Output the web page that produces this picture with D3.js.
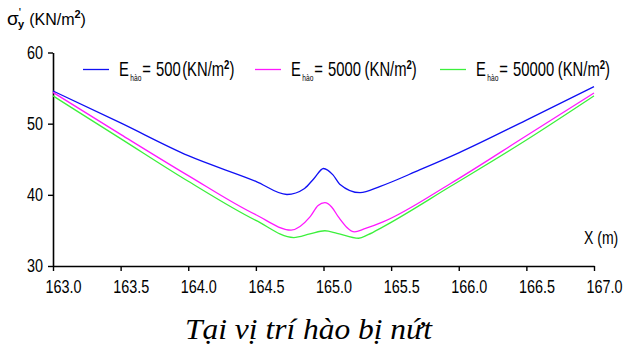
<!DOCTYPE html>
<html>
<head>
<meta charset="utf-8">
<script src="https://cdn.jsdelivr.net/npm/d3@7"></script>
<style>
  body { margin: 0; background: #fff; }
  text { font-family: "Liberation Sans", Arial, sans-serif; }
</style>
</head>
<body>
<svg id="chart" width="626" height="349"></svg>
<script>
// x positions (m) and stress values (KN/m2) for each trench stiffness
var xBlue = [163.0, 163.5, 164.0, 164.5, 164.73, 164.86, 164.93, 165.0, 165.07, 165.12, 165.27, 165.42, 165.71, 166.0, 166.5, 167.0];
var yBlue = [54.6, 50.1, 45.5, 41.9, 40.05, 40.9, 42.3, 43.7, 42.8, 41.5, 40.3, 41.2, 43.5, 45.9, 50.5, 55.2];

var xPink = [163.0, 163.5, 164.0, 164.5, 164.76, 164.9, 164.96, 165.01, 165.06, 165.11, 165.23, 165.3, 165.44, 165.94, 166.5, 167.0];
var yPink = [54.4, 48.5, 42.7, 37.2, 35.05, 36.9, 38.5, 38.9, 38.3, 36.9, 34.8, 35.2, 36.2, 41.6, 48.3, 54.3];

var xGreen = [163.0, 163.5, 164.0, 164.5, 164.78, 164.9, 165.01, 165.1, 165.26, 165.33, 165.44, 165.94, 166.5, 167.0];
var yGreen = [53.9, 47.9, 41.9, 36.4, 34.0, 34.5, 34.95, 34.6, 33.9, 34.4, 35.5, 41.2, 47.7, 53.9];

var seriesLabels = ["500", "5000", "50000"];
var xTicks = [163.0, 163.5, 164.0, 164.5, 165.0, 165.5, 166.0, 166.5, 167.0];
var yTicks = [30, 40, 50, 60];

var colours = ["#1010f4", "#ff18ff", "#3cf03c"];

var svg = d3.select("#chart");

var x = d3.scaleLinear().domain([163, 167]).range([53, 594]);
var y = d3.scaleLinear().domain([30, 60]).range([266, 52.5]);

// condensed look: squeeze text horizontally
var squeeze = 0.8;

// axes
svg.append("g")
  .attr("transform", "translate(0,266)")
  .call(d3.axisBottom(x).tickValues(xTicks).tickFormat(d3.format(".1f")).tickSize(5).tickSizeOuter(0))
  .call(function(g) {
    g.select(".domain").attr("stroke-width", 1.6);
    g.selectAll(".tick line").attr("stroke-width", 1.4);
    g.selectAll("text")
      .attr("font-size", 18).attr("font-family", null)
      .attr("y", 27).attr("dy", null)
      .attr("x", 10 / squeeze)
      .attr("transform", "scale(" + squeeze + ",1)");
  });

svg.append("g")
  .attr("transform", "translate(53,0)")
  .call(d3.axisLeft(y).tickValues(yTicks).tickSize(5).tickSizeOuter(0))
  .call(function(g) {
    g.select(".domain").attr("stroke-width", 1.6);
    g.selectAll(".tick line").attr("stroke-width", 1.4);
    g.selectAll("text")
      .attr("font-size", 18).attr("font-family", null)
      .attr("x", -10 / squeeze)
      .attr("transform", "scale(" + squeeze + ",1)");
  });

// lines
var line = d3.line()
  .x(function(d) { return x(d[0]); })
  .y(function(d) { return y(d[1]); })
  .curve(d3.curveMonotoneX);

var series = [d3.zip(xBlue, yBlue), d3.zip(xPink, yPink), d3.zip(xGreen, yGreen)];

svg.selectAll(".series")
  .data(series)
  .enter().append("path")
  .attr("class", "series")
  .attr("fill", "none")
  .attr("stroke", function(d, i) { return colours[i]; })
  .attr("stroke-width", 1.3)
  .attr("d", line);

// legend
var legendX = [83, 255, 440];
var lg = svg.selectAll(".legend")
  .data(seriesLabels)
  .enter().append("g")
  .attr("class", "legend")
  .attr("transform", function(d, i) { return "translate(" + legendX[i] + ",69.5)"; });

lg.append("line")
  .attr("x1", 0).attr("x2", 26)
  .attr("stroke", function(d, i) { return colours[i]; })
  .attr("stroke-width", 1.3);

var lt = lg.append("text")
  .attr("transform", "translate(36,6) scale(0.74,1)")
  .attr("font-size", 20);
lt.append("tspan").text("E");
lt.append("tspan").attr("font-size", 9).attr("dy", 5).attr("dx", 2).text("hào");
lt.append("tspan").attr("dy", -5).attr("dx", 1).text("=");
lt.append("tspan").attr("dx", 7).text(function(d) { return d; });
lt.append("tspan").attr("dx", function(d, i) { return i == 0 ? 2 : 5; }).text("(KN/m");
lt.append("tspan").attr("font-size", 13).attr("font-weight", "bold").attr("dy", -7).text("2");
lt.append("tspan").attr("dy", 7).text(")");

// y-axis title
var yt = svg.append("text")
  .attr("x", 7)
  .attr("y", 25)
  .attr("font-size", 16);
yt.append("tspan").attr("font-size", 19).text("σ");
yt.append("tspan").attr("font-size", 12).attr("dy", -8).attr("dx", 0).text("'");
yt.append("tspan").attr("font-size", 11).attr("font-weight", "bold").attr("dy", 11).attr("dx", -3).text("y");
yt.append("tspan").attr("dy", -3).attr("dx", 5).text("(KN/m");
yt.append("tspan").attr("font-size", 11).attr("font-weight", "bold").attr("dy", -7).text("2");
yt.append("tspan").attr("dy", 7).text(")");

// x-axis title
svg.append("text")
  .attr("transform", "translate(584,244) scale(0.78,1)")
  .attr("font-size", 18)
  .text("X (m)");

// caption
svg.append("text")
  .attr("x", 185)
  .attr("y", 339)
  .style("font-family", "'Liberation Serif', 'Times New Roman', serif")
  .style("font-style", "italic")
  .attr("font-size", 30)
  .attr("textLength", 247)
  .attr("lengthAdjust", "spacingAndGlyphs")
  .text("Tại vị trí hào bị nứt");
</script>
</body>
</html>
